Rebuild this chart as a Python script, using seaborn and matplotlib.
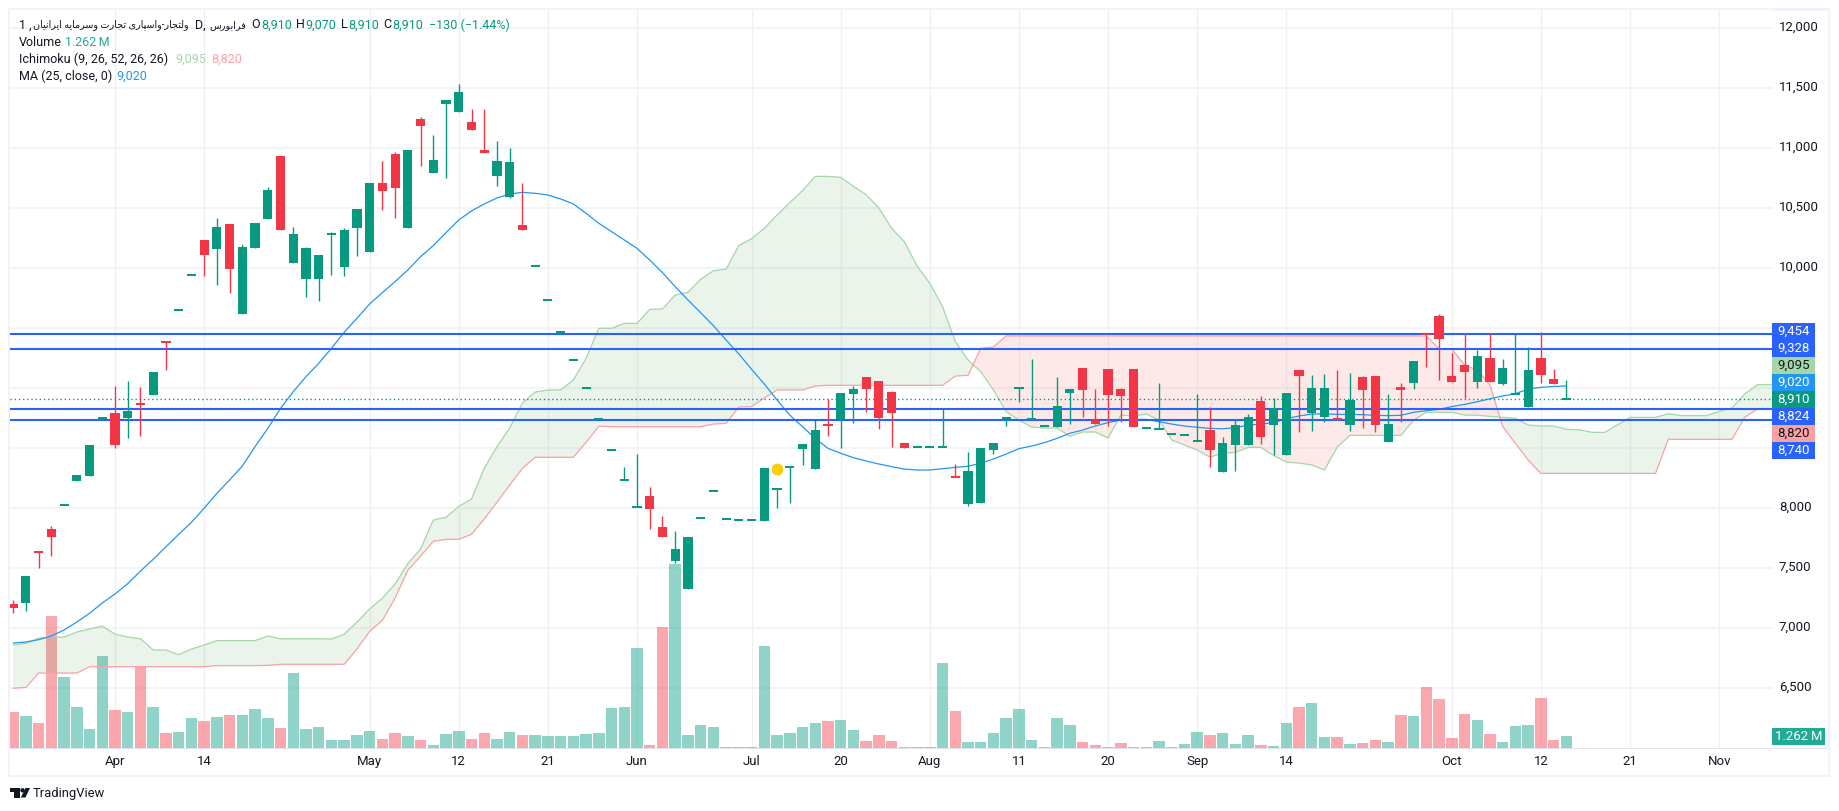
# load dependencies
import numpy as np
import matplotlib.pyplot as plt
from matplotlib.patches import Rectangle, Polygon, Ellipse
from matplotlib.transforms import ScaledTranslation
import seaborn as sns

W, H = 1840, 811

# daily candles, one value per bar
opens = [7172,7436,7627,7761,8028,8277,8527,8752,8530,8811,8860,9136,9380,9650,9942,10111,10344,9994,10178,10378,
         10653,10319,10286,10169,10111,10282,10319,10494,10711,10644,10669,10986,11186,10903,11403,11469,11153,10961,10894,10886,
         10319,10017,9733,9467,9233,9000,8744,8483,8233,8010,7994,7761,7661,7761,7916,8141,7908,7900,7900,8336,
         8158,8342,8536,8653,8686,8961,8994,8994,8752,8794,8502,8508,8508,8508,8258,8311,8502,8544,8750,9002,
         8747,8683,8852,8994,8986,8702,8944,8936,8677,8666,8658,8616,8608,8558,8486,8544,8694,8761,8594,8836,
         8961,9102,9002,9002,8739,8902,8986,8694,8702,8986,9227,9447,9411,9052,9136,9269,9052,9169,8952,9152,
         9111,9036,8910]
highs = [7236,7436,7640,7852,8028,8277,8527,8752,9019,9061,9008,9136,9394,9650,9942,10236,10419,10369,10203,10378,
         10678,10936,10344,10178,10111,10303,10336,10494,10711,10894,10969,10986,11261,11111,11403,11536,11328,11328,11061,11003,
         10711,10017,9733,9467,9233,9000,8744,8483,8341,8452,8177,7936,7811,7761,7916,8141,7908,7900,7900,8336,
         8158,8342,8536,8736,8911,8961,9019,9094,9061,8977,8544,8508,8508,8827,8369,8469,8502,8544,8750,9002,
         9244,8683,9094,8994,9169,8994,9161,9002,9161,8666,9044,8616,8608,8952,8844,8594,8744,8786,8936,8919,
         8961,9152,9111,9119,9152,9127,9102,9102,8952,9044,9227,9461,9619,9294,9461,9319,9461,9244,9452,9344,
         9469,9161,9070]
lows = [7130,7147,7505,7605,8028,8227,8269,8752,8505,8588,8605,8944,9155,9650,9942,9936,9861,9794,9619,10169,
        10411,10319,10044,9761,9728,9944,9936,10103,10136,10486,10419,10336,10853,10794,10753,11303,11153,10961,10686,10586,
        10319,10017,9733,9467,9233,9000,8744,8483,8233,8010,7827,7761,7544,7327,7916,8141,7908,7900,7900,7894,
        8002,8044,8361,8327,8602,8502,8711,8802,8661,8511,8502,8508,8508,8508,8258,8019,8044,8452,8686,8886,
        8747,8683,8677,8702,8761,8702,8686,8719,8677,8666,8658,8616,8608,8558,8344,8302,8311,8527,8536,8444,
        8444,8636,8644,8719,8739,8644,8669,8636,8552,8719,8994,9177,9069,9052,8919,9002,9052,9028,8952,8844,
        9044,9036,8910]
closes = [7202,7214,7638,7827,8028,8227,8269,8752,8794,8752,8875,8944,9394,9650,9942,10236,10161,10369,9619,10169,
          10411,10936,10044,9911,9911,10282,10011,10336,10136,10711,10953,10336,11244,10794,11369,11303,11219,10986,10769,10594,
          10361,10017,9733,9467,9233,9000,8744,8483,8233,8010,8102,7844,7561,7327,7916,8141,7908,7900,7900,7894,
          8158,8342,8494,8327,8700,8744,8952,9094,9061,8969,8544,8508,8508,8508,8270,8036,8044,8486,8750,9002,
          8747,8683,8677,8961,9169,8736,9161,8994,9161,8666,8658,8616,8608,8558,8653,8302,8527,8527,8894,8694,
          8444,9152,8794,8761,8752,8694,9094,9102,8552,9011,9044,9461,9602,9102,9194,9052,9252,9036,8952,8844,
          9252,9077,8910]
# volume in millions
volume = [3.73,3.32,2.60,13.58,7.32,4.24,1.98,9.47,3.93,3.73,8.45,4.24,1.57,1.68,3.11,2.80,3.21,3.42,3.42,4.04,
          3.11,2.09,7.73,1.98,2.19,0.86,0.86,1.37,1.78,0.96,1.57,1.27,0.86,0.34,1.47,1.78,0.96,1.57,0.96,1.68,
          1.37,1.37,1.27,1.27,1.27,1.47,1.57,4.14,4.24,10.29,0.34,12.45,18.91,1.37,2.39,2.19,0.14,0.14,0.14,10.50,
          1.37,1.57,2.19,2.60,2.80,2.91,1.88,0.75,1.37,0.75,0.14,0.14,0.14,8.76,3.83,0.65,0.65,1.57,3.11,4.04,
          0.86,0.14,3.11,2.39,0.65,0.34,0.14,0.55,0.14,0.14,0.75,0.14,0.44,1.68,1.37,1.57,0.44,1.37,0.34,0.24,
          2.60,4.24,4.65,1.16,1.16,0.44,0.55,0.86,0.65,3.42,3.32,6.29,5.06,1.06,3.52,2.91,1.47,0.65,2.29,2.39,
          5.16,0.86,1.262]
ma25 = [6877,6886,6905,6936,6986,7052,7125,7211,7286,7372,7477,7575,7680,7783,7883,8000,8125,8236,8352,8514,
        8666,8833,8972,9097,9208,9333,9467,9583,9703,9797,9889,9986,10097,10189,10297,10403,10478,10536,10586,10619,
        10633,10625,10611,10578,10536,10458,10375,10306,10236,10166,10069,9964,9847,9736,9630,9522,9402,9286,9158,9036,
        8902,8777,8680,8583,8500,8458,8422,8394,8369,8347,8327,8319,8319,8330,8341,8350,8375,8411,8452,8497,
        8519,8547,8583,8625,8652,8686,8714,8736,8741,8741,8722,8702,8686,8675,8666,8663,8672,8694,8702,8713,
        8747,8769,8786,8786,8783,8783,8780,8775,8772,8775,8800,8813,8825,8847,8866,8888,8913,8936,8955,8994,
        9008,9015,9020]
# ichimoku leading spans, they run on past the last candle
span_a = [6861,6875,6919,6927,6927,6969,6994,7019,6952,6927,6913,6819,6819,6780,6827,6861,6897,6897,6897,6897,
          6936,6913,6913,6913,6913,6911,6950,7052,7161,7252,7369,7541,7661,7902,7925,8016,8077,8333,8513,8669,
          8877,8969,8986,8986,9069,9250,9500,9500,9541,9541,9658,9661,9777,9800,9908,9980,9994,10189,10247,10333,
          10444,10547,10647,10766,10766,10758,10683,10614,10502,10333,10222,10019,9875,9680,9389,9236,9139,8986,8805,8736,
          8677,8669,8669,8600,8636,8636,8586,8777,8769,8786,8736,8569,8527,8486,8427,8461,8466,8508,8508,8441,
          8386,8377,8361,8319,8511,8608,8608,8608,8608,8608,8736,8800,8800,8800,8777,8775,8766,8758,8750,8694,
          8686,8686,8658,8655,8633,8633,8694,8758,8758,8758,8788,8772,8772,8772,8808,8836,8952,9030,9030,9030]
span_b = [6500,6508,6627,6627,6627,6627,6680,6680,6680,6680,6680,6680,6680,6680,6680,6680,6689,6689,6689,6689,
          6691,6700,6700,6700,6700,6700,6700,6827,6975,7066,7252,7483,7602,7725,7741,7741,7783,7911,8050,8194,
          8333,8425,8425,8425,8425,8550,8683,8680,8680,8680,8680,8680,8680,8680,8680,8702,8708,8844,8847,8919,
          8986,8986,8986,9019,9025,9025,9025,9025,9025,9025,9025,9025,9025,9025,9102,9108,9333,9344,9436,9436,
          9436,9436,9436,9436,9436,9436,9436,9436,9436,9436,9436,9436,9436,9436,9436,9436,9436,9436,9436,9436,
          9436,9436,9436,9436,9436,9436,9436,9436,9436,9436,9436,9436,9327,9327,9194,9152,9027,8680,8541,8402,
          8291,8291,8291,8291,8291,8291,8291,8291,8291,8291,8575,8575,8575,8575,8575,8575,8758,8827,8827,8827]

level_lines = [9454, 9328, 8824, 8740]
last_close = 8910
signal_bar, signal_price = 60, 8330

tick_bars = [8,15,28,35,42,49,58,65,72,79,86,93,100,113,120,127,134]
tick_names = ['Apr','14','May','12','21','Jun','Jul','20','Aug','11','20','Sep','14','Oct','12','21','Nov']
price_grid = [6500,7000,7500,8000,8500,9000,9500,10000,10500,11000,11500,12000]
price_hidden = [8500,9000,9500]  # covered by the price badges

badge_text = ['9,454','9,328','9,095','9,020','8,910','8,824','8,820','8,740']
badge_fill = ['#2962ff','#2962ff','#a5d6a7','#2196f3','#089981','#2962ff','#faa1a4','#2962ff']
badge_ink = ['white','white','#131722','white','white','white','#131722','white']

GREEN = '#089981'
RED = '#f23645'
INK = '#131722'
GRID = '#f1f2f5'


# persian has to go in as shaped glyphs in visual order, matplotlib does neither
FORMS = {'ا':'\ufe8d\ufe8e', 'ب':'\ufe8f\ufe90\ufe91\ufe92', 'پ':'\ufb56\ufb57\ufb58\ufb59',
         'ت':'\ufe95\ufe96\ufe97\ufe98', 'ج':'\ufe9d\ufe9e\ufe9f\ufea0', 'ر':'\ufead\ufeae',
         'س':'\ufeb1\ufeb2\ufeb3\ufeb4', 'ف':'\ufed1\ufed2\ufed3\ufed4', 'ل':'\ufedd\ufede\ufedf\ufee0',
         'م':'\ufee1\ufee2\ufee3\ufee4', 'ن':'\ufee5\ufee6\ufee7\ufee8', 'ه':'\ufee9\ufeea\ufeeb\ufeec',
         'و':'\ufeed\ufeee', 'ی':'\ufbfc\ufbfd\ufbfe\ufbff'}

def shape(word):
    out = []
    for k, ch in enumerate(word):
        if ch not in FORMS:
            out.append(ch)
            continue
        prev = word[k-1] if k > 0 else ' '
        nxt = word[k+1] if k+1 < len(word) else ' '
        join_prev = prev in FORMS and len(FORMS[prev]) == 4
        join_next = nxt in FORMS and len(FORMS[ch]) == 4
        if join_prev and join_next:
            out.append(FORMS[ch][3])
        elif join_next:
            out.append(FORMS[ch][2])
        elif join_prev:
            out.append(FORMS[ch][1])
        else:
            out.append(FORMS[ch][0])
    return ''.join(out)[::-1]


sns.set_theme(style='white')
plt.rcParams['font.family'] = ['Roboto', 'DejaVu Sans']
plt.rcParams['axes.unicode_minus'] = False

fig = plt.figure(figsize=(W/100, H/100), dpi=100, facecolor='white')

# chart area in pixels: x 10..1772, y 10..748
box = [10/W, 1-748.3/H, 1762/W, 738.3/H]
ax_vol = fig.add_axes(box, zorder=1)
ax = fig.add_axes(box, zorder=2)
ax.patch.set_visible(False)

xlim = (-0.25, 138.15)
ylim = (6000, 12152.5)

bars = np.arange(len(closes))
o, h, l, c = map(np.array, (opens, highs, lows, closes))
is_red = c > o
candle_colors = np.where(is_red, RED, GREEN)

# volume sits on its own scale at the bottom
sns.barplot(x=bars, y=volume, hue=np.where(is_red, 'r', 'g'), palette={'r': '#f7525f', 'g': '#22ab94'},
            native_scale=True, width=0.9, dodge=False, legend=False, saturation=1, alpha=0.5,
            linewidth=0, ax=ax_vol)
ax_vol.set_xlim(xlim)
ax_vol.set_ylim(0, 75.75)
ax_vol.set_ylabel('')
ax_vol.set_yticks([])
ax_vol.set_xticks([])
for s in ax_vol.spines.values():
    s.set_visible(False)

# grid goes under the volume bars
for b in tick_bars:
    ax_vol.axvline(b, color='#f0f0f3', lw=1, zorder=0)
for p in price_grid:
    ax_vol.axhline((p-6000)/6152.5*75.75, color=GRID, lw=1.2, zorder=0)

# ichimoku cloud
cloud_x = np.arange(len(span_a))
a, b_span = np.array(span_a), np.array(span_b)
ax.fill_between(cloud_x, a, b_span, where=a >= b_span, interpolate=True, color='#43a047', alpha=0.11, lw=0, zorder=1)
ax.fill_between(cloud_x, a, b_span, where=a < b_span, interpolate=True, color='#f44336', alpha=0.11, lw=0, zorder=1)
sns.lineplot(x=cloud_x, y=span_a, color='#a5d6a7', lw=0.9, ax=ax, zorder=2)
sns.lineplot(x=cloud_x, y=span_b, color='#faa1a4', lw=0.9, ax=ax, zorder=2)
sns.lineplot(x=bars, y=ma25, color='#2196f3', lw=0.9, ax=ax, zorder=3)

# horizontal levels stay under the candles
for p in level_lines:
    ax.axhline(p, color='#2962ff', lw=1.5, zorder=3.5)
ax.axhline(last_close, color=GREEN, lw=1, ls=(0, (1, 2)), zorder=3)

# candles, flat ones still get a thin body
min_body = 16
tall = np.abs(c-o) >= min_body
body_h = np.where(tall, np.abs(c-o), min_body)
body_y = np.where(tall, np.minimum(o, c), (o+c)/2-min_body/2)
ax.vlines(bars, l, h, colors=candle_colors, lw=1.0, zorder=4)
ax.bar(bars, body_h, bottom=body_y, width=0.72, color=candle_colors, lw=0, zorder=5)

ax.scatter([signal_bar], [signal_price], s=62, color='#ffd000', edgecolor='#f7c600', lw=0.5, zorder=7)

ax.set_xlim(xlim)
ax.set_ylim(ylim)
ax.set_xlabel('')
ax.set_ylabel('')
ax.set_xticks(tick_bars)
ax.set_xticklabels(tick_names, fontsize=9.5, color=INK)
ax.yaxis.tick_right()
ax.set_yticks(price_grid)
ax.set_yticklabels(['' if p in price_hidden else f'{p:,}' for p in price_grid], fontsize=9.5, color=INK)
ax.tick_params(axis='x', length=0, pad=4.5)
ax.tick_params(axis='y', length=0, pad=5)
for s in ax.spines.values():
    s.set_visible(False)
# price labels sit a touch above their gridline
lift = ScaledTranslation(0, 1.5/100, fig.dpi_scale_trans)
for lab in ax.get_yticklabels():
    lab.set_va('center')
    lab.set_transform(lab.get_transform() + lift)


def px_text(x, y, txt, color=INK, size=9.0, **kw):
    fig.text(x/W, 1-y/H, txt, color=color, fontsize=size, va='center', zorder=20, **kw)

def px_rect(x0, y0, x1, y1, **kw):
    fig.add_artist(Rectangle((x0/W, 1-y1/H), (x1-x0)/W, (y1-y0)/H, transform=fig.transFigure, lw=0, **kw))


# outer frame and the time axis rule
px_rect(8, 8.5, 1830, 10.5, color='#f0f3fa')
px_rect(8, 774.5, 1830, 777, color='#f0f3fa')
px_rect(8, 8.5, 10, 777, color='#f0f3fa')
px_rect(1828, 8.5, 1830, 777, color='#f0f3fa')
px_rect(10, 747.6, 1828, 749, color='#e0e3eb')

# price badges, stacked so they do not overlap
for k, (t, f, i) in enumerate(zip(badge_text, badge_fill, badge_ink)):
    yc = 331 + 17*k
    px_rect(1772, yc-8.5, 1815, yc+8.5, color=f, zorder=15)
    px_text(1793.5, yc, t, color=i, size=9.5, ha='center')
px_rect(1772, 728, 1825, 745, color='#22ab94', zorder=15)
px_text(1798.5, 736.5, '1.262\u2009M', color='white', size=9.5, ha='center')

# legend rows in the top left
px_text(19, 25, '1 ,')
px_text(33, 25, shape('ولتجار-واسپاری تجارت وسرمایه ایرانیان'), size=6.9)
px_text(195, 25, 'D,')
px_text(209, 25, shape('فرابورس'), size=6.9)
for x, t, col in [(251, 'O', INK), (261, '8,910', GREEN), (296, 'H', INK), (305.5, '9,070', GREEN),
                  (341.5, 'L', INK), (348.5, '8,910', GREEN), (383.5, 'C', INK), (392, '8,910', GREEN),
                  (429, '\u2212130 (\u22121.44%)', GREEN)]:
    px_text(x, 25, t, color=col)
px_text(19, 42, 'Volume')
px_text(65, 42, '1.262\u2009M', color='#22ab94')
px_text(19, 59, 'Ichimoku (9, 26, 52, 26, 26)')
px_text(175, 59, '9,095', color='#a5d6a7')
px_text(211.5, 59, '8,820', color='#faa1a4')
px_text(19, 76, 'MA (25, close, 0)')
px_text(116, 76, '9,020', color='#2196f3')

# tradingview mark
px_rect(10, 788, 19.5, 792, color='#131722')
px_rect(14, 788, 19.5, 797.5, color='#131722')
fig.add_artist(Ellipse((22.5/W, 1-790.3/H), 4.4/W, 4.4/H, transform=fig.transFigure, color='#131722', lw=0))
fig.add_artist(Polygon([(25.5/W, 1-788/H), (30/W, 1-788/H), (25.5/W, 1-797.5/H), (20.8/W, 1-797.5/H)],
                       transform=fig.transFigure, color='#131722', lw=0))
px_text(33, 794, 'TradingView', size=9.4)

plt.savefig('out.png', dpi=100)
